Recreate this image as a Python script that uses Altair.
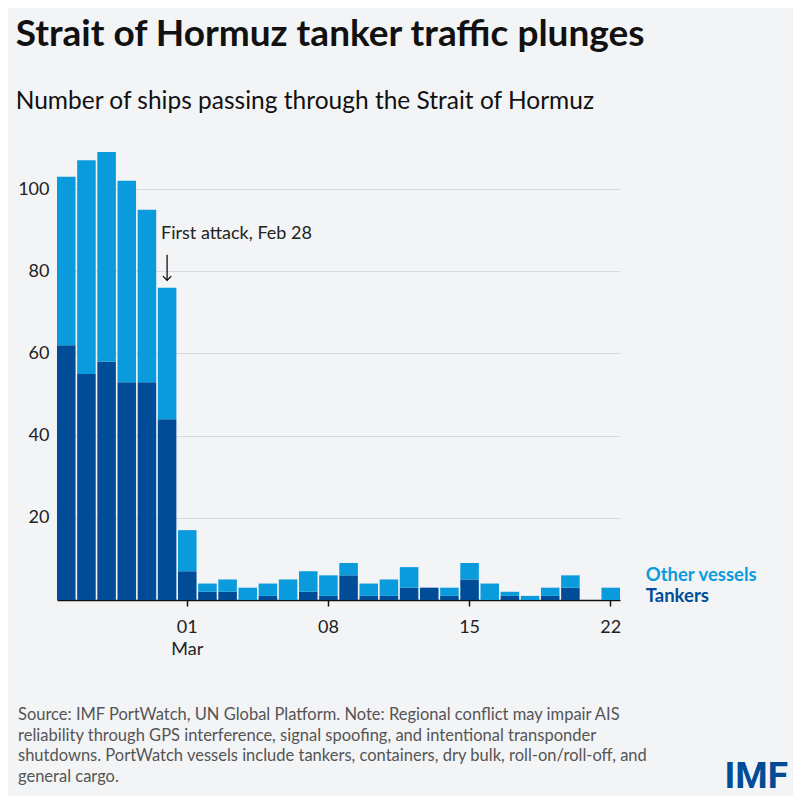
import altair as alt
import pandas as pd

days = ["02-23", "02-24", "02-25", "02-26", "02-27", "02-28",
        "03-01", "03-02", "03-03", "03-04", "03-05", "03-06", "03-07",
        "03-08", "03-09", "03-10", "03-11", "03-12", "03-13", "03-14",
        "03-15", "03-16", "03-17", "03-18", "03-19", "03-20", "03-21", "03-22"]
tankers = [62, 55, 58, 53, 53, 44,
           7, 2, 2, 0, 1, 0, 2,
           1, 6, 1, 1, 3, 3, 1,
           5, 0, 1, 0, 1, 3, 0, 0]
other = [41, 52, 51, 49, 42, 32,
         10, 2, 3, 3, 3, 5, 5,
         5, 3, 3, 4, 5, 0, 2,
         4, 4, 1, 1, 2, 3, 0, 3]
tick_days = ["03-01", "03-08", "03-15", "03-22"]
series = ["Tankers", "Other vessels"]
colors = ["#004C97", "#0A9BDD"]

rows = []
for d, t, o in zip(days, tankers, other):
    rows.append({"day": d, "type": "Tankers", "count": t, "ord": 0})
    rows.append({"day": d, "type": "Other vessels", "count": o, "ord": 1})
df = pd.DataFrame(rows)

FONT = "Lato"

xscale = alt.Scale(domain=days, paddingInner=0.08, paddingOuter=0)
yscale = alt.Scale(domain=[0, 110], nice=False)
cscale = alt.Scale(domain=series, range=colors)

bars = alt.Chart(df).mark_bar().encode(
    x=alt.X("day:O", sort=days, scale=xscale,
            axis=alt.Axis(values=tick_days, title=None, labelAngle=0,
                          labelExpr="datum.value == '03-01' ? ['01', 'Mar'] : slice(datum.value, 3)",
                          domainColor="#111", domainWidth=1.5, tickColor="#111",
                          tickWidth=1.5, tickSize=6, labelPadding=12,
                          labelFontSize=18, labelFont=FONT, labelColor="#222",
                          labelLineHeight=22, grid=False)),
    y=alt.Y("count:Q", stack="zero", scale=yscale,
            axis=alt.Axis(values=[20, 40, 60, 80, 100], title=None, domain=False,
                          ticks=False, labelPadding=8, labelFontSize=18,
                          labelFont=FONT, labelColor="#222", grid=True,
                          gridColor="#d9dadd", gridWidth=1)),
    color=alt.Color("type:N", scale=cscale, legend=None),
    order=alt.Order("ord:Q"),
)

ann_df = pd.DataFrame({"day": ["02-28"], "y": [89], "y_top": [84], "y_bot": [77.8],
                       "label": ["First attack, Feb 28"]})
ann_text = alt.Chart(ann_df).mark_text(align="left", baseline="middle", dx=-6,
                                       fontSize=18, font=FONT, color="#222").encode(
    x=alt.X("day:O", sort=days, scale=xscale), y=alt.Y("y:Q", scale=yscale), text="label:N")
ann_rule = alt.Chart(ann_df).mark_rule(color="#111", strokeWidth=1.3).encode(
    x=alt.X("day:O", sort=days, scale=xscale), y=alt.Y("y_top:Q", scale=yscale), y2="y_bot:Q")
ann_head = alt.Chart(ann_df).mark_point(shape="M-1,-1L0,0L1,-1", filled=False, color="#111",
                                        strokeWidth=1.3, size=70, opacity=1).encode(
    x=alt.X("day:O", sort=days, scale=xscale), y=alt.Y("y_bot:Q", scale=yscale))

leg_df = pd.DataFrame({"day": ["03-22", "03-22"], "y": [6.0, 1.0],
                       "type": ["Other vessels", "Tankers"]})
leg = alt.Chart(leg_df).mark_text(align="left", baseline="middle", dx=35, fontSize=18.5,
                                  fontWeight="bold", font=FONT).encode(
    x=alt.X("day:O", sort=days, scale=xscale), y=alt.Y("y:Q", scale=yscale),
    text="type:N", color=alt.Color("type:N", scale=cscale, legend=None))

footer_lines = [
    "Source: IMF PortWatch, UN Global Platform. Note: Regional conflict may impair AIS",
    "reliability through GPS interference, signal spoofing, and intentional transponder",
    "shutdowns. PortWatch vessels include tankers, containers, dry bulk, roll-on/roll-off, and",
    "general cargo.",
]
foot_df = pd.DataFrame({"k": [0]})
footer = alt.Chart(foot_df).mark_text(text=footer_lines, align="left", baseline="middle",
                                      fontSize=16.5, font=FONT, color="#555",
                                      lineHeight=20.5).encode(
    x=alt.value(-39), y=alt.value(567))
logo = alt.Chart(foot_df).mark_text(text="IMF", align="right", baseline="alphabetic",
                                    fontSize=37, font="Roboto", fontWeight="bold",
                                    color="#004C97").encode(
    x=alt.value(731), y=alt.value(640))

chart = alt.layer(bars, ann_rule, ann_head, ann_text, leg, footer, logo).properties(
    width=563, height=452,
    title=alt.TitleParams(text="Strait of Hormuz tanker traffic plunges",
                          subtitle="Number of ships passing through the Strait of Hormuz",
                          anchor="start", dx=-2, font=FONT, fontSize=37, fontWeight="bold",
                          color="#111", subtitleFont=FONT, subtitleFontSize=24.5,
                          subtitleColor="#111", subtitlePadding=36, offset=34),
    autosize=alt.AutoSizeParams(type="none"),
    padding={"left": 49, "top": 140, "right": 173, "bottom": 196},
).configure(background="#f3f4f6").configure_view(stroke=None)

chart.save("out.html", embed_options={"renderer": "svg", "actions": False})
